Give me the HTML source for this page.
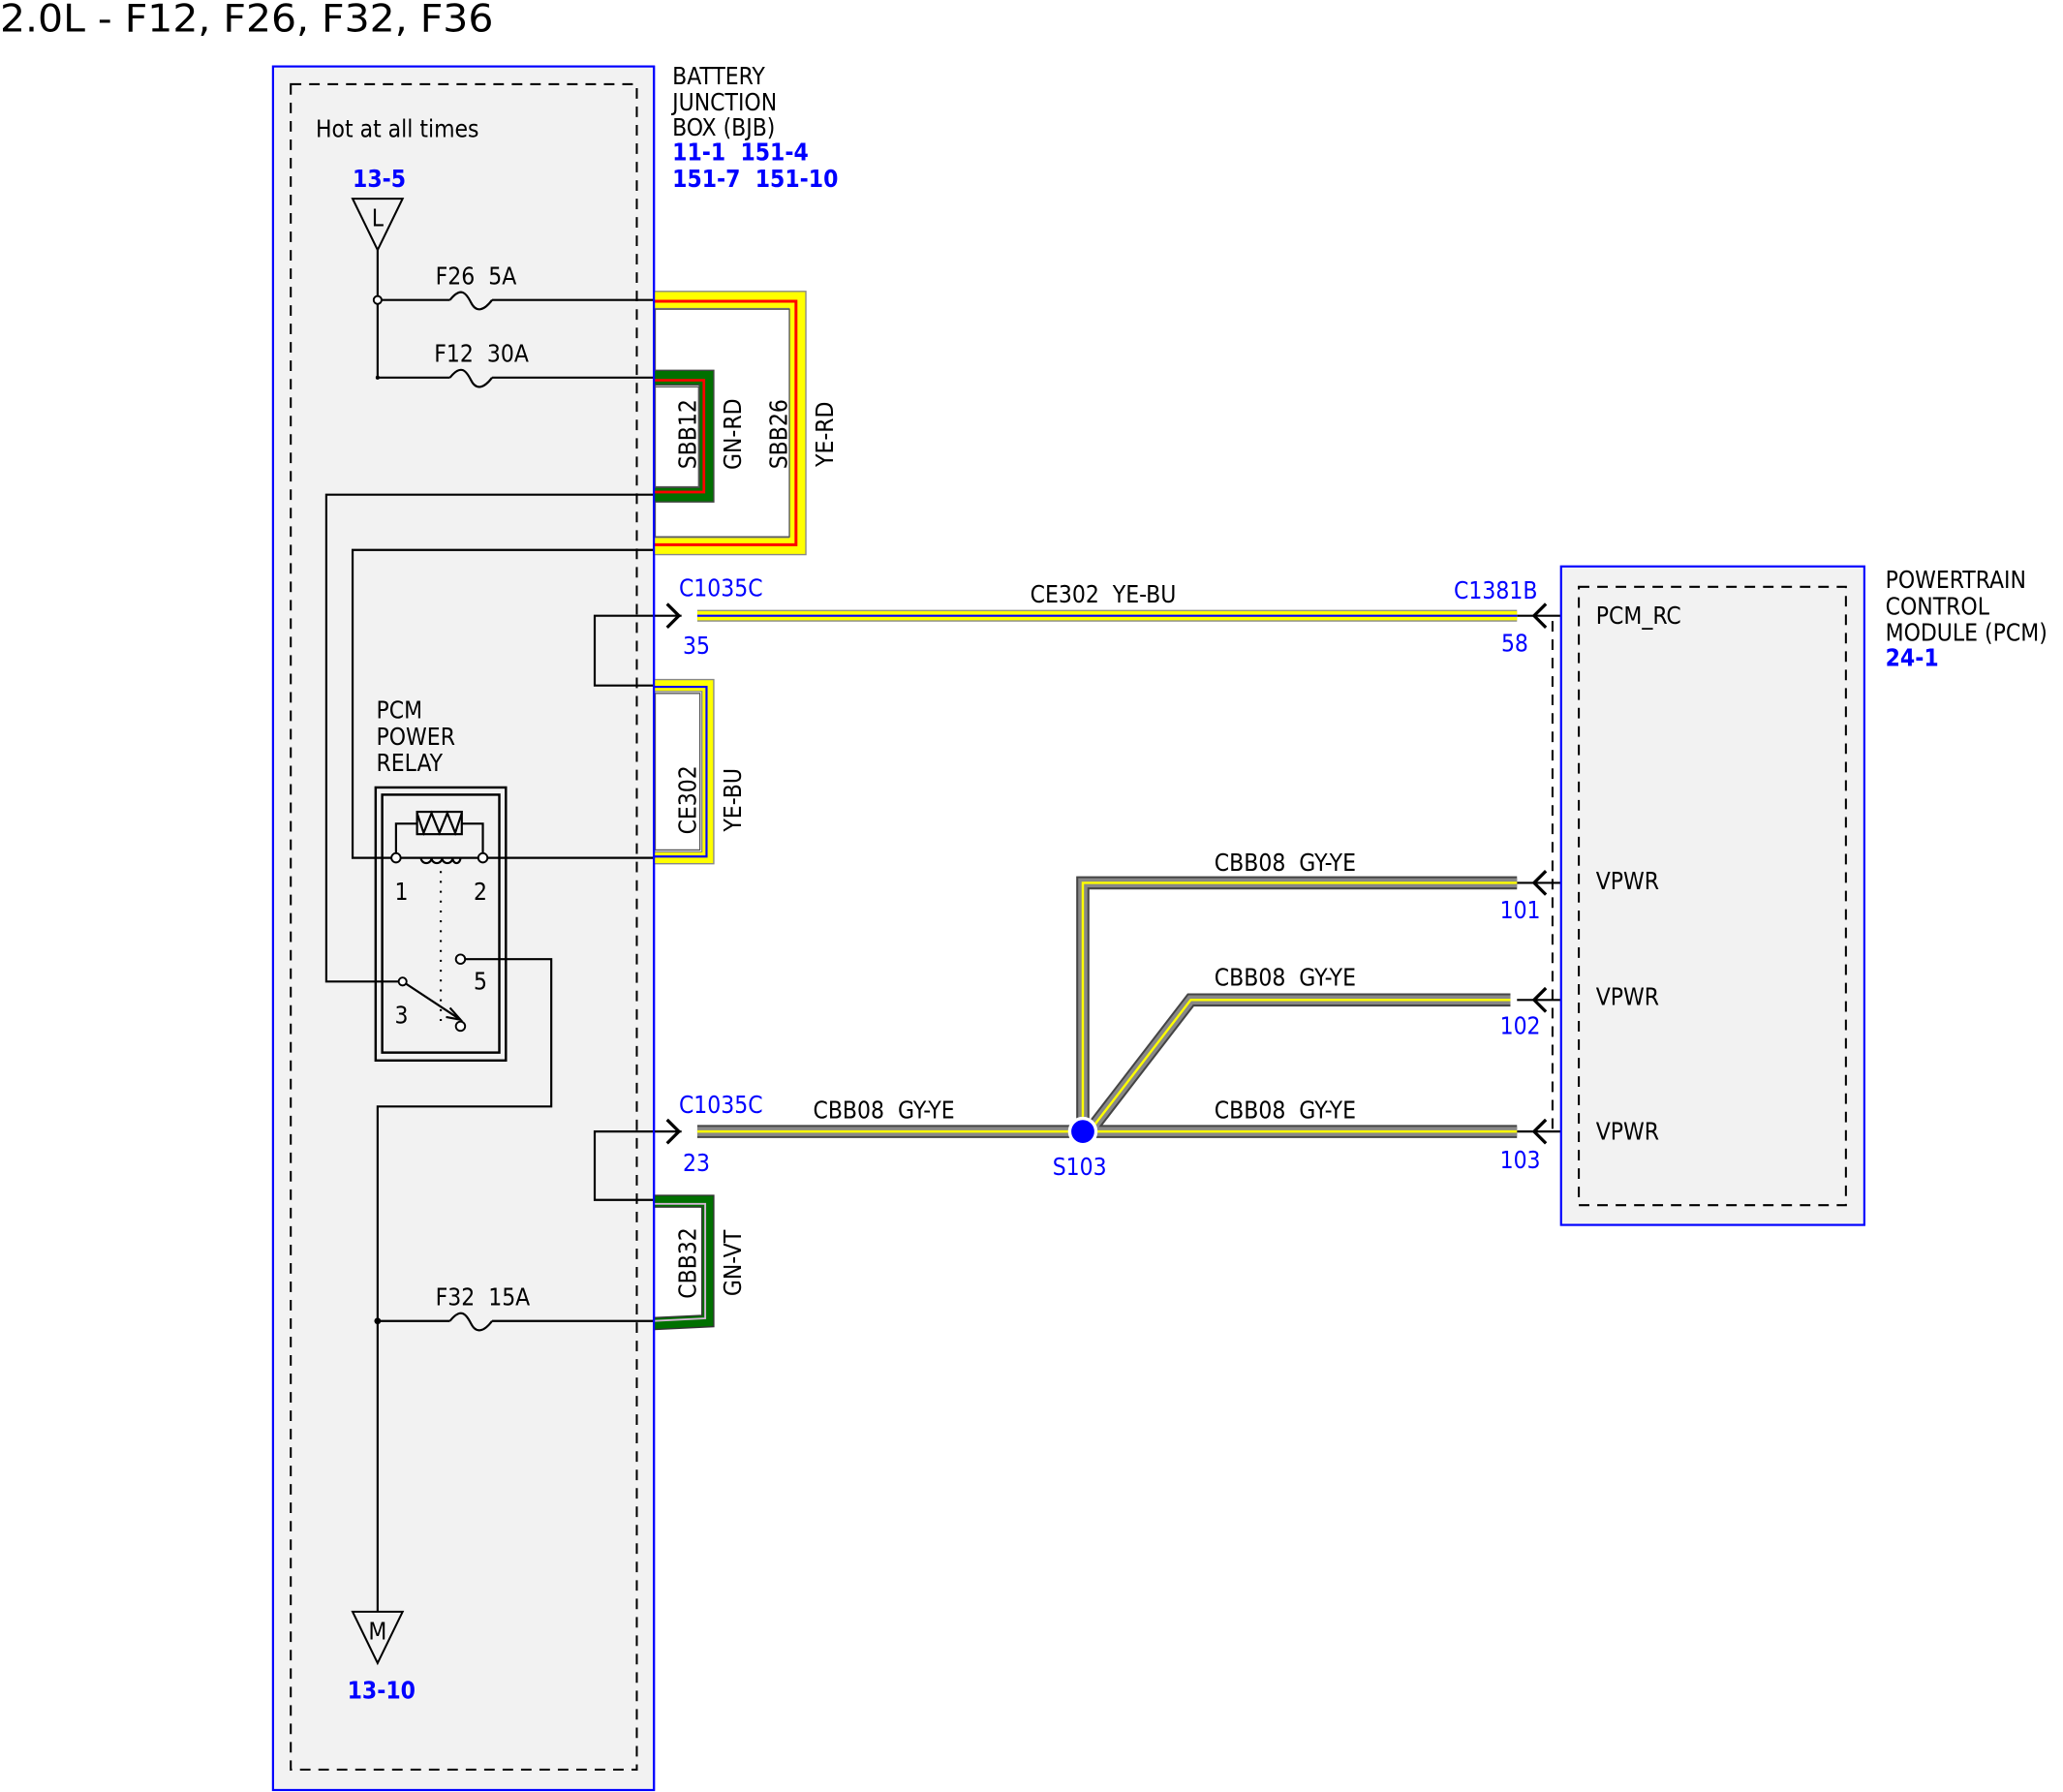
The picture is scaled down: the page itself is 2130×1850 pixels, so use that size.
<!DOCTYPE html>
<html><head><meta charset="utf-8"><style>
html,body{margin:0;padding:0;background:#fff;}
svg{display:block;}
text{font-family:"DejaVu Sans Condensed","Liberation Sans Narrow","Liberation Sans",sans-serif;font-size:18px;fill:#000;white-space:pre;}
.b{fill:#0000ff;}
.bb{fill:#0000ff;font-weight:bold;}
</style></head><body>
<svg width="2130" height="1850" viewBox="0 0 1568 1362" preserveAspectRatio="none" xmlns="http://www.w3.org/2000/svg" xml:space="preserve">
<text x="0" y="24" style="font-size:29px" textLength="375" lengthAdjust="spacingAndGlyphs">2.0L - F12, F26, F32, F36</text>

<!-- BJB -->
<rect x="207.5" y="50.5" width="289.5" height="1310" fill="#f2f2f2" stroke="#0000ff" stroke-width="1.6"/>
<rect x="221" y="64" width="263" height="1281" fill="none" stroke="#000" stroke-width="1.5" stroke-dasharray="8,6"/>
<text x="511" y="64">BATTERY</text>
<text x="511" y="84">JUNCTION</text>
<text x="511" y="103">BOX (BJB)</text>
<text x="511" y="122" class="bb">11-1  151-4</text>
<text x="511" y="142" class="bb">151-7  151-10</text>
<text x="240" y="104">Hot at all times</text>
<text x="268" y="142" class="bb">13-5</text>
<polygon points="268,151 306,151 287,190" fill="none" stroke="#000" stroke-width="1.5"/>
<text x="287" y="172" text-anchor="middle">L</text>

<g stroke="#000" stroke-width="1.6" fill="none">
<path d="M287,190 V287 H342"/>
<path d="M287,228 H342"/>
<path d="M342,228 C350,218 354,222 358,230 C362,238 368,236 374,228" />
<path d="M374,228 H497"/>
<path d="M342,287 C350,277 354,281 358,289 C362,297 368,295 374,287"/>
<path d="M374,287 H497"/>
<path d="M497,376 H248 V746 H306"/>
<path d="M497,418 H268 V652 H497"/>
<!-- relay -->
<rect x="285.5" y="598.5" width="99" height="207.5" stroke-width="1.8"/>
<rect x="290.5" y="604" width="89" height="196" stroke-width="1.8"/>
<rect x="317" y="617" width="34" height="17"/>
<path d="M317,618 L322,633 L328,618 L334,633 L340,618 L346,633 L351,618"/>
<path d="M317,626 H301 V652"/>
<path d="M351,626 H367 V652"/>
<path d="M320,652 a4,4 0 0 0 8,0 a4,4 0 0 0 8,0 a4,4 0 0 0 8,0 a3,4 0 0 0 6,0"/>
<path d="M335,662 V780" stroke-dasharray="1.5,6"/>
<path d="M353,729 H419 V841 H287 V1225"/>
<path d="M306,746 L350,775"/>
<path d="M342,766 L350,775 L339,773"/>
<!-- F32 -->
<path d="M287,1004 H342"/>
<path d="M342,1004 C350,994 354,998 358,1006 C362,1014 368,1012 374,1004"/>
<path d="M374,1004 H497"/>
<!-- connector stubs -->
<path d="M518,468 H452 V521 H497"/>
<path d="M518,860 H452 V912 H497"/>
<path d="M1153,468 H1200"/>
<path d="M1153,671 H1186"/>
<path d="M1153,760 H1186"/>
<path d="M1153,860 H1186"/>
</g>
<g fill="#fff" stroke="#000" stroke-width="1.4">
<circle cx="287" cy="228" r="3"/>
<circle cx="301" cy="652" r="3.5"/>
<circle cx="367" cy="652" r="3.5"/>
<circle cx="350" cy="729" r="3.5"/>
<circle cx="306" cy="746" r="3"/>
<circle cx="350" cy="780" r="3.5"/>
</g>
<circle cx="287" cy="1004" r="2.5" fill="#000"/>
<circle cx="287" cy="287" r="1.5" fill="#000"/>
<text x="286" y="546">PCM</text>
<text x="286" y="566">POWER</text>
<text x="286" y="586">RELAY</text>
<text x="300" y="684">1</text>
<text x="360" y="684">2</text>
<text x="360" y="752">5</text>
<text x="300" y="778">3</text>
<text x="331" y="216">F26  5A</text>
<text x="330" y="275">F12  30A</text>
<text x="331" y="992">F32  15A</text>
<polygon points="268,1225 306,1225 287,1264" fill="none" stroke="#000" stroke-width="1.5"/>
<text x="287" y="1246" text-anchor="middle">M</text>
<text x="264" y="1291" class="bb">13-10</text>

<!-- SBB26 loop -->
<g fill="none" stroke-linejoin="miter">
<path d="M497,228 H606 V415 H497" stroke="#888" stroke-width="14"/>
<path d="M497,228 H606 V415 H497" stroke="#ffff00" stroke-width="12"/>
<path d="M497,229 H605 V414 H497" stroke="#ff0000" stroke-width="2.2"/>
</g>
<rect x="498" y="235" width="102" height="173" fill="#fff" stroke="#555" stroke-width="1"/>
<g fill="none" stroke-linejoin="miter">
<path d="M497,287 H537 V376 H497" stroke="#444" stroke-width="12"/>
<path d="M497,287 H537 V376 H497" stroke="#007000" stroke-width="10"/>
<path d="M497,289 H535 V374 H497" stroke="#ff0000" stroke-width="2"/>
</g>
<rect x="498" y="294" width="33" height="76" fill="#fff" stroke="#555" stroke-width="1"/>
<g fill="none" stroke-linejoin="miter">
<!-- CE302 -->
<path d="M497,521 H538 V652 H497" stroke="#888" stroke-width="10"/>
<path d="M497,521 H538 V652 H497" stroke="#ffff00" stroke-width="8"/>
<path d="M497,522 H537 V651 H497" stroke="#0000ff" stroke-width="1.6"/>
<!-- CBB32 -->
<path d="M497,913 H538 V1004 L497,1006" stroke="#333" stroke-width="10"/>
<path d="M497,913 H538 V1004 L497,1006" stroke="#007000" stroke-width="8"/>
<path d="M497,915 H536 V1002 L497,1004" stroke="#d8b8d8" stroke-width="1.4"/>
</g>
<rect x="498" y="527" width="34" height="119" fill="#fff" stroke="#555" stroke-width="1"/>
<rect x="498" y="918" width="34" height="81" fill="#fff" stroke="none"/>
<line x1="497" y1="50" x2="497" y2="1361" stroke="#0000ff" stroke-width="1.6"/>
<g>
<text transform="translate(529,330) rotate(-90)" text-anchor="middle">SBB12</text>
<text transform="translate(563,330) rotate(-90)" text-anchor="middle">GN-RD</text>
<text transform="translate(598,330) rotate(-90)" text-anchor="middle">SBB26</text>
<text transform="translate(633,330) rotate(-90)" text-anchor="middle">YE-RD</text>
<text transform="translate(529,608) rotate(-90)" text-anchor="middle">CE302</text>
<text transform="translate(563,608) rotate(-90)" text-anchor="middle">YE-BU</text>
<text transform="translate(529,960) rotate(-90)" text-anchor="middle">CBB32</text>
<text transform="translate(563,960) rotate(-90)" text-anchor="middle">GN-VT</text>
</g>

<!-- PCM -->
<rect x="1186.5" y="430.5" width="230.5" height="500.5" fill="#f2f2f2" stroke="#0000ff" stroke-width="1.6"/>
<rect x="1200" y="446" width="203" height="470" fill="none" stroke="#000" stroke-width="1.5" stroke-dasharray="8,6"/>
<line x1="1180" y1="472" x2="1180" y2="858" stroke="#000" stroke-width="1.5" stroke-dasharray="8,6"/>
<text x="1213" y="474">PCM_RC</text>
<text x="1213" y="676">VPWR</text>
<text x="1213" y="764">VPWR</text>
<text x="1213" y="866">VPWR</text>
<text x="1433" y="447">POWERTRAIN</text>
<text x="1433" y="467">CONTROL</text>
<text x="1433" y="487">MODULE (PCM)</text>
<text x="1433" y="506" class="bb">24-1</text>

<!-- CE302 wire -->
<line x1="530" y1="468" x2="1153" y2="468" stroke="#888" stroke-width="9"/>
<line x1="530" y1="468" x2="1153" y2="468" stroke="#ffff00" stroke-width="7"/>
<line x1="530" y1="468" x2="1153" y2="468" stroke="#0000ff" stroke-width="1.6"/>
<text x="783" y="458">CE302  YE-BU</text>

<!-- CBB08 wires -->
<g fill="none" stroke-linejoin="miter">
<path d="M530,860 H1153 M823,860 V671 H1153 M828,860 L905,760 H1148" stroke="#444" stroke-width="10"/>
<path d="M530,860 H1153 M823,860 V671 H1153 M828,860 L905,760 H1148" stroke="#888" stroke-width="7"/>
<path d="M530,860 H1153 M823,860 V671 H1153 M828,860 L905,760 H1148" stroke="#ffff00" stroke-width="1.8"/>
</g>
<circle cx="823" cy="860" r="10" fill="#0000ff" stroke="#fff" stroke-width="2.5"/>
<text x="800" y="893" class="b">S103</text>
<text x="618" y="850">CBB08  GY-YE</text>
<text x="923" y="662">CBB08  GY-YE</text>
<text x="923" y="749">CBB08  GY-YE</text>
<text x="923" y="850">CBB08  GY-YE</text>

<!-- connector arrows -->
<g fill="none" stroke="#000" stroke-width="2.4">
<path d="M507,459 L516,468 L507,477"/>
<path d="M507,851 L516,860 L507,869"/>
<path d="M1175,459 L1166,468 L1175,477"/>
<path d="M1175,662 L1166,671 L1175,680"/>
<path d="M1175,751 L1166,760 L1175,769"/>
<path d="M1175,851 L1166,860 L1175,869"/>
</g>
<text x="516" y="453" class="b">C1035C</text>
<text x="519" y="497" class="b">35</text>
<text x="516" y="846" class="b">C1035C</text>
<text x="519" y="890" class="b">23</text>
<text x="1105" y="455" class="b">C1381B</text>
<text x="1141" y="495" class="b">58</text>
<text x="1140" y="698" class="b">101</text>
<text x="1140" y="786" class="b">102</text>
<text x="1140" y="888" class="b">103</text>
</svg>
</body></html>
